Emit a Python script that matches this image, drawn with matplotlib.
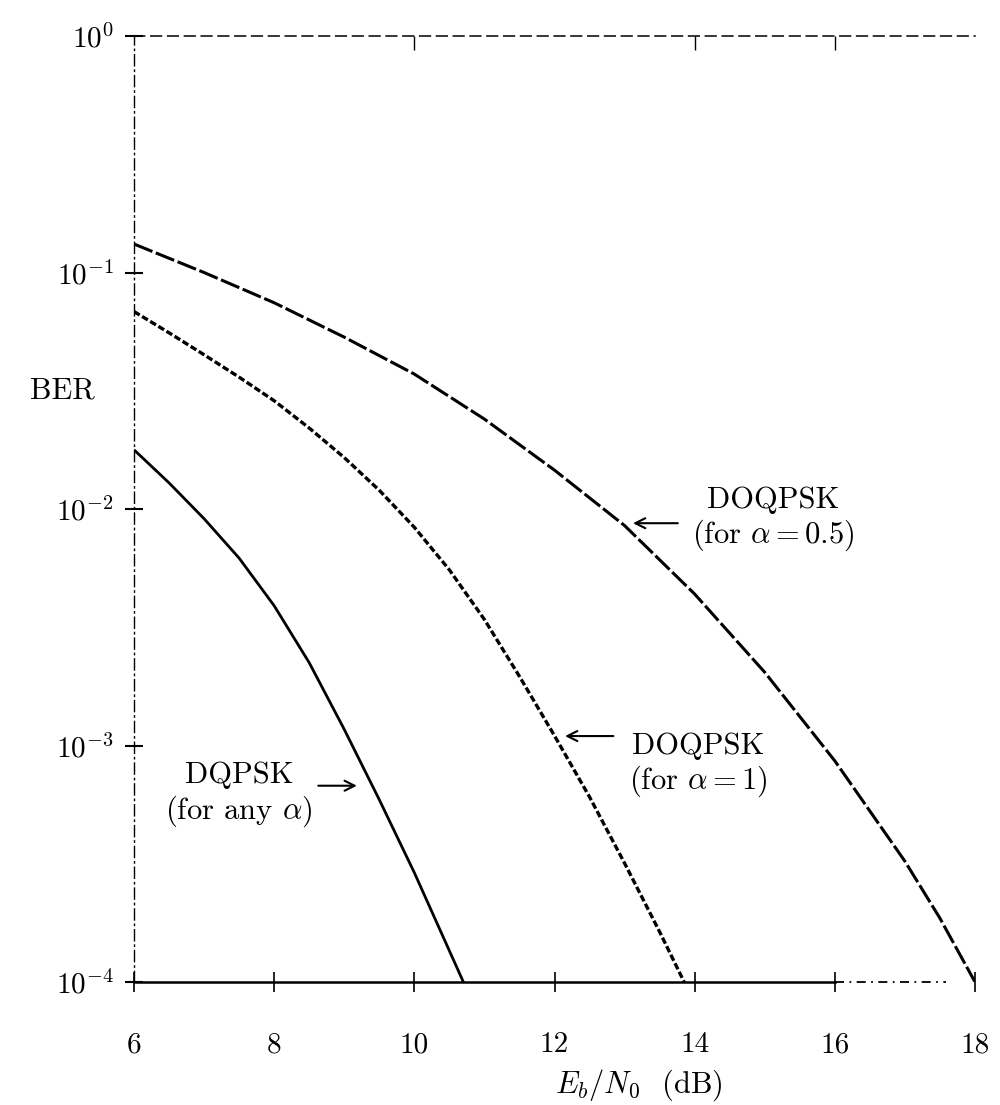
import matplotlib
matplotlib.use("Agg")
import matplotlib.pyplot as plt
from matplotlib.ticker import NullLocator
from matplotlib.transforms import blended_transform_factory

plt.rcParams["font.family"] = ["cmr10", "DejaVu Serif"]
plt.rcParams["mathtext.fontset"] = "cm"
plt.rcParams["axes.unicode_minus"] = False

# Eb/N0 (dB) versus bit error rate for the three schemes
ebn0_dqpsk = [6.0, 6.5, 7.0, 7.5, 8.0, 8.5, 9.0, 9.5, 10.0, 10.7]
ber_dqpsk = [1.78e-2, 1.29e-2, 9.1e-3, 6.2e-3, 3.9e-3, 2.24e-3, 1.17e-3, 5.9e-4, 2.9e-4, 1.0e-4]

ebn0_doqpsk_a1 = [6.0, 6.5, 7.0, 7.5, 8.0, 8.5, 9.0, 9.5, 10.0, 10.5, 11.0, 11.5, 12.0,
                  12.5, 13.0, 13.5, 13.85]
ber_doqpsk_a1 = [6.84e-2, 5.56e-2, 4.49e-2, 3.61e-2, 2.87e-2, 2.20e-2, 1.65e-2, 1.20e-2,
                 8.37e-3, 5.53e-3, 3.41e-3, 1.96e-3, 1.10e-3, 6.06e-4, 3.18e-4, 1.63e-4, 1.0e-4]

ebn0_doqpsk_a05 = [6.0, 7.0, 8.0, 9.0, 10.0, 11.0, 12.0, 13.0, 14.0, 15.0, 16.0, 17.0, 17.5, 18.0]
ber_doqpsk_a05 = [0.132, 0.100, 0.0745, 0.0533, 0.0372, 0.0240, 0.0146, 8.51e-3, 4.37e-3,
                  2.04e-3, 8.61e-4, 3.24e-4, 1.86e-4, 1.0e-4]

x_ticks = [6, 8, 10, 12, 14, 16, 18]
x_tick_labels = ["6", "8", "10", "12", "14", "16", "18"]
y_ticks = [1e0, 1e-1, 1e-2, 1e-3, 1e-4]
y_tick_labels = [r"$10^{0}$", r"$10^{-1}$", r"$10^{-2}$", r"$10^{-3}$", r"$10^{-4}$"]

fig = plt.figure(figsize=(10, 11.05), dpi=100)
ax = fig.add_axes([0.134, 0.1113, 0.841, 0.8561])
ax.set_yscale("log")
ax.set_xlim(6, 18)
ax.set_ylim(1e-4, 1)

ax.plot(ebn0_dqpsk, ber_dqpsk, color="black", lw=2.0, solid_capstyle="butt",
        solid_joinstyle="round")
ax.plot(ebn0_doqpsk_a1, ber_doqpsk_a1, color="black", lw=2.4,
        linestyle=(0, (2.0, 0.85)))
ax.plot(ebn0_doqpsk_a05, ber_doqpsk_a05, color="black", lw=2.2,
        linestyle=(0, (6.5, 1.2)))

# axes frame: thin broken left/top lines, baseline solid then fading, no right edge
ax.spines["right"].set_visible(False)
ax.spines["bottom"].set_visible(False)
ax.spines["left"].set_linestyle((0, (8, 3, 1, 3)))
ax.spines["left"].set_linewidth(1.0)
ax.spines["top"].set_linestyle((0, (7, 4)))
ax.spines["top"].set_linewidth(1.1)
ax.axhline(1e-4, xmin=0.0, xmax=10 / 12, color="black", lw=1.8, clip_on=False)
ax.axhline(1e-4, xmin=10 / 12, xmax=0.965, color="black", lw=1.3,
           linestyle=(0, (5, 3, 1, 3)), clip_on=False)

ax.set_xticks(x_ticks)
ax.set_xticklabels(x_tick_labels)
ax.set_yticks(y_ticks)
ax.set_yticklabels(y_tick_labels)
ax.yaxis.set_minor_locator(NullLocator())
ax.tick_params(axis="x", direction="inout", length=14, width=1.2, pad=29, labelsize=21)
ax.tick_params(axis="y", direction="inout", length=13, width=1.5, pad=8, labelsize=21)

top = ax.secondary_xaxis("top")
top.set_xticks([10, 14, 16])
top.set_xticklabels([])
top.tick_params(direction="in", length=10, width=1.0)
top.spines["top"].set_visible(False)

ax.set_xlabel(r"$E_b/N_0$  (dB)", fontsize=22)
ax.xaxis.set_label_coords(0.60, -0.090)

label_tf = blended_transform_factory(ax.transAxes, ax.transData)
ax.text(-0.085, 10 ** -1.5, "BER", transform=label_tf, ha="center", va="center", fontsize=22)

arrow = dict(arrowstyle="->", lw=1.5, color="black", shrinkA=0, shrinkB=0,
             mutation_scale=18)

ax.text(7.50, 10 ** -3.21, "DQPSK\n(for any $\\alpha$)", ha="center", va="center",
        fontsize=22, linespacing=1.15)
ax.annotate("", xy=(9.18, 10 ** -3.17), xytext=(8.63, 10 ** -3.17), arrowprops=arrow)

ax.text(14.05, 10 ** -3.085, "DOQPSK\n(for $\\alpha = 1$)", ha="center", va="center",
        fontsize=22, linespacing=1.15)
ax.annotate("", xy=(12.15, 10 ** -2.96), xytext=(12.84, 10 ** -2.96), arrowprops=arrow)

ax.text(15.12, 10 ** -2.045, "DOQPSK\n(for $\\alpha = 0.5$)", ha="center", va="center",
        fontsize=22, linespacing=1.15)
ax.annotate("", xy=(13.12, 10 ** -2.06), xytext=(13.76, 10 ** -2.06), arrowprops=arrow)

fig.savefig("out.png", dpi=100, facecolor="white")
